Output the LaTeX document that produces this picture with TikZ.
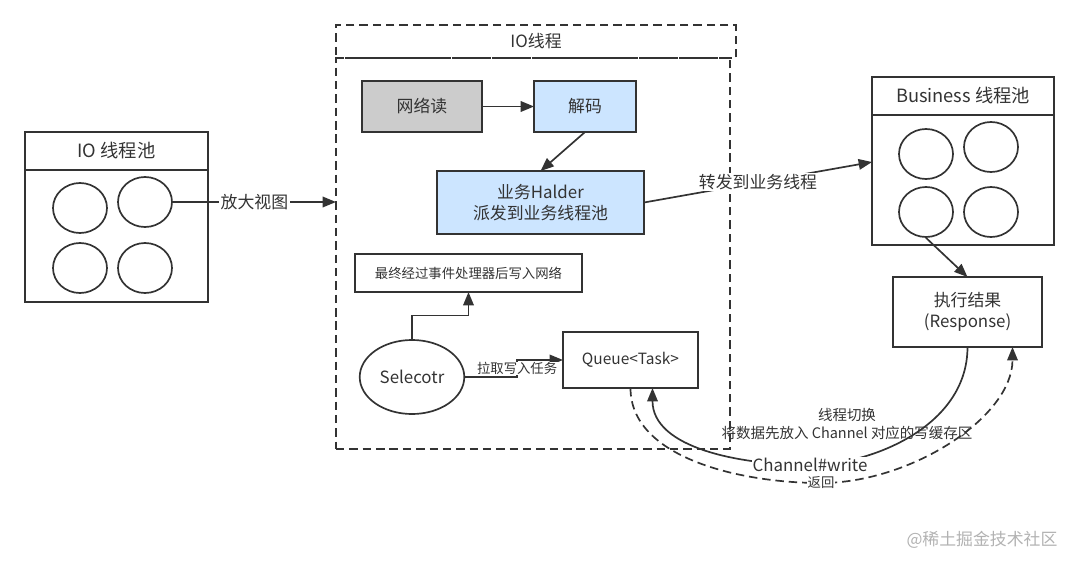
\documentclass[tikz,border=0pt]{standalone}
\usepackage{fontspec}
\setmainfont{Noto Sans CJK SC}
\usetikzlibrary{calc,positioning,shapes.geometric,arrows.meta}
\definecolor{decblue}{HTML}{CCE5FF}
\definecolor{readgray}{HTML}{CCCCCC}
\definecolor{ink}{HTML}{333333}
\tikzstyle{rect} = [rectangle, draw=ink, line width=1.2pt, outer sep=0pt, text centered, inner sep=0pt]
\tikzstyle{pool} = [ellipse, draw=ink, line width=1.2pt, minimum width=1.35cm, minimum height=1.25cm]
\tikzstyle{arrow} = [line width=1.2pt, draw=ink, ->, >={Triangle[length=9.5pt,width=7.5pt]}]
\tikzstyle{line} = [line width=1.2pt, draw=ink]

\begin{document}
\begin{tikzpicture}[x=0.025cm, y=-0.025cm]
\tikzset{%
	big/.style = {font=\fontsize{12}{14.5}\selectfont, text=ink},
	head/.style = {font=\fontsize{13}{15}\selectfont, text=ink},
	small/.style = {font=\fontsize{9.5}{11.5}\selectfont, text=ink},
	dbox/.style = {rectangle, draw=ink, line width=1.2pt, outer sep=0pt, dash pattern=on 6pt off 3.5pt},
	lbl/.style = {fill=white, inner sep=1pt}
}
\useasboundingbox (0,0) rectangle (1080,566);

% IO pool
\node(ioh) [rect, head, anchor=north west, minimum width=4.575cm, minimum height=0.95cm] at (25,132) {IO 线程池};
\node(iob) [rect, below=0pt of ioh, minimum width=4.575cm, minimum height=3.3cm] {};
\node(ic1) [pool] at (80,208) {};
\node(ic2) [pool] at (145,202) {};
\node(ic3) [pool] at (80,268) {};
\node(ic4) [pool] at (145,268) {};

% IO thread
\node(thh) [dbox, big, anchor=north west, minimum width=10cm, minimum height=0.825cm] at (336,25) {IO线程};
\node(thb) [dbox, anchor=north west, minimum width=9.85cm, minimum height=9.775cm] at (336,58) {};

\node(rd) [rect, big, fill=readgray, minimum width=3cm, minimum height=1.275cm] at (422,106.5) {网络读};
\node(dec) [rect, big, fill=decblue, minimum width=2.55cm, minimum height=1.275cm, right=1.3cm of rd] {解码};
\node(hd) [rect, big, fill=decblue, align=center, minimum width=5.175cm, minimum height=1.575cm] at (540.5,202.5) {业务Halder\\派发到业务线程池};
\node(wr) [rect, small, minimum width=5.675cm, minimum height=0.95cm] at (468.5,273) {最终经过事件处理器后写入网络};
\node(sel) [ellipse, draw=ink, line width=1.2pt, big, minimum width=2.45cm, minimum height=1.85cm] at (412,377) {Selecotr};
\node(q) [rect, font=\fontsize{11}{13}\selectfont, text=ink, minimum width=3.375cm, minimum height=1.4cm] at (630.5,360) {Queue<Task>};

% Business pool
\node(bh) [rect, head, anchor=north west, minimum width=4.55cm, minimum height=0.95cm] at (872,77) {Business 线程池};
\node(bb) [rect, below=0pt of bh, minimum width=4.55cm, minimum height=3.25cm] {};
\node(bc1) [pool] at (926,154) {};
\node(bc2) [pool] at (991,147) {};
\node(bc3) [pool] at (926,212) {};
\node(bc4) [pool] at (991,212) {};

\node(res) [rect, font=\fontsize{12}{15}\selectfont, text=ink, align=center, minimum width=3.725cm, minimum height=1.75cm] at (967.5,312) {执行结果\\(Response)};

\node(note) [font=\fontsize{10.3}{12.2}\selectfont, text=ink, align=center] at (847,424) {线程切换\\将数据先放入 Channel 对应的写缓存区};

% connectors
\draw [arrow] (ic2.east) -- (thb.west |- ic2.east) node(l1) [lbl, big, midway] {放大视图};
\draw [arrow] (rd) -- (dec);
\draw [arrow] (dec.south) -- (hd.north);
\draw [arrow] (sel.north) |- ($(sel.north)!0.5!(wr.south)$) -| (wr.south);
\draw [arrow] (sel.east) -- ++(52,0) coordinate(sq) |- (q.west);
\node(l2) [lbl, small, inner sep=0.5pt] at ($(sq)!0.5!(sq |- q.west)$) {拉取写入任务};
\draw [arrow] (hd.east) -- ($(bb.west)+(0,-18)$) node(l3) [lbl, big, midway] {转发到业务线程};
\draw [arrow] (bc3.south) -- (res.north);

\draw [arrow] (res.south) .. controls +(0,80) and +(60,0) .. (810,465)
	node(l4) [lbl, big, inner sep=0.5pt] {Channel\#write}
	.. controls +(-70,0) and +(0,60) .. ($(q.south)+(22,0)$);
\draw [arrow, dash pattern=on 6pt off 3.5pt] (q.south) .. controls +(0,70) and +(-80,0) .. (821,483)
	node(l5) [lbl, small, inner sep=0.5pt] {返回}
	.. controls +(90,0) and +(0,70) .. ($(res.south)+(45,0)$);

\node(wm) [font=\fontsize{12}{14}\selectfont, text=gray!60] at (982,540) {@稀土掘金技术社区};
\end{tikzpicture}
\end{document}
